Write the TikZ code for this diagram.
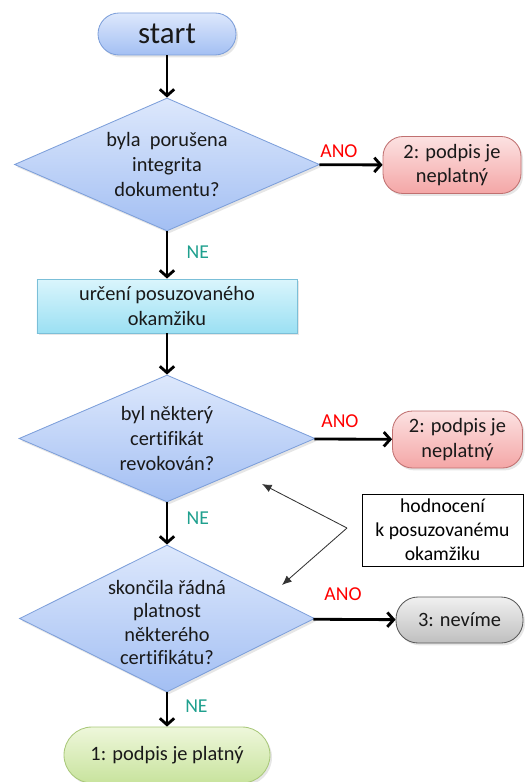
\documentclass[tikz,border=0pt]{standalone}
\usepackage{fontspec}
\setmainfont[Ligatures=NoCommon]{Carlito}
\usepackage{xcolor}
\usepackage{tikz}
\usetikzlibrary{arrows.meta,positioning,shapes.geometric,shadows}

\definecolor{diaTop}{HTML}{DDE8FC}
\definecolor{diaBot}{HTML}{A3BFF3}
\definecolor{diaLine}{HTML}{7D9FDA}
\definecolor{procTop}{HTML}{DAF5FC}
\definecolor{procBot}{HTML}{9BE0F3}
\definecolor{procLine}{HTML}{7BBFD8}
\definecolor{badTop}{HTML}{FCE2E2}
\definecolor{badBot}{HTML}{F4A6A6}
\definecolor{badLine}{HTML}{C07070}
\definecolor{unkTop}{HTML}{F0F0F0}
\definecolor{unkBot}{HTML}{BFBFBF}
\definecolor{unkLine}{HTML}{595959}
\definecolor{okTop}{HTML}{EEF7DB}
\definecolor{okBot}{HTML}{C8E39D}
\definecolor{okLine}{HTML}{A9C87A}
\definecolor{neCol}{HTML}{1FA08E}

\begin{document}
\begin{tikzpicture}[
    x=0.25mm, y=-0.25mm,
    font=\fontsize{14.5}{17.5}\selectfont,
    box/.style={draw, align=center, inner sep=2pt, text=black!90, line width=0.6pt,
      drop shadow={opacity=0.2, shadow xshift=0.5mm, shadow yshift=-0.6mm}},
    term/.style={box, draw=diaLine, top color=diaTop, bottom color=diaBot,
      minimum width=34.5mm, minimum height=10.5mm, rounded corners=5.25mm},
    dec/.style={box, shape=diamond, draw=diaLine, top color=diaTop, bottom color=diaBot, inner sep=0pt},
    dtx/.style={align=center, inner sep=0pt, text=black!90},
    proc/.style={box, draw=procLine, top color=procTop, bottom color=procBot,
      minimum width=65mm, minimum height=13.5mm},
    bad/.style={box, draw=badLine, top color=badTop, bottom color=badBot,
      minimum height=14.25mm, rounded corners=5mm},
    unk/.style={box, draw=unkLine, top color=unkTop, bottom color=unkBot,
      minimum width=31.75mm, minimum height=11.5mm, rounded corners=5.5mm},
    ok/.style={box, draw=okLine, top color=okTop, bottom color=okBot,
      minimum width=51.5mm, minimum height=14mm, rounded corners=7mm},
    note/.style={draw, line width=0.6pt, align=center, inner sep=2pt,
      minimum width=40.25mm, minimum height=18mm, font=\fontsize{14}{17}\selectfont},
    ar/.style={-{Straight Barb[length=1.6mm,width=3.6mm]}, line width=2pt},
    nar/.style={-{Latex[length=2.4mm,width=2mm]}, line width=0.6pt, black!80},
    ano/.style={text=red, inner sep=0pt, font=\fontsize{14}{16}\selectfont},
    ne/.style={text=neCol, inner sep=0pt, font=\fontsize{14}{16}\selectfont},
  ]
    \useasboundingbox (0,0) rectangle (524,782);

    \node[term, font=\fontsize{22}{24}\selectfont] (start) at (167,34) {start};

    \node[dec, minimum width=76.25mm, minimum height=33.25mm] (q1) at (167,164.5) {};
    \node[dtx] (q1t) at (q1) {byla~~porušena\\integrita\\dokumentu?};
    \node[bad, minimum width=34.5mm] (bad1) at (452,165) {2: podpis je\\neplatný};

    \node[proc] (urc) at (167,306) {určení posuzovaného\\okamžiku};

    \node[dec, minimum width=74mm, minimum height=31.75mm] (q2) at (167,438.5) {};
    \node[dtx] (q2t) at (q2) {byl některý\\certifikát\\revokován?};
    \node[bad, minimum width=32.5mm] (bad2) at (457.5,439.5) {2: podpis je\\neplatný};

    \node[note] (hodn) at (442.5,530) {hodnocení\\k posuzovanému\\okamžiku};

    \node[dec, minimum width=73.75mm, minimum height=36.75mm] (q3) at (167,618.5) {};
    \node[dtx, font=\fontsize{14.5}{16.5}\selectfont, yshift=-1mm] (q3t) at (q3)
      {skončila řádná\\platnost\\některého\\certifikátu?};
    \node[unk] (unk) at (459.5,620) {3: nevíme};

    \node[ok] (ok) at (167,755) {1: podpis je platný};

    % hlavni tok
    \draw[ar] (start) -- (q1);
    \draw[ar] (q1) -- node[ano, pos=0.31, above=4pt] (ano1) {ANO} (bad1);
    \draw[ar] (q1) -- node[ne, pos=0.44, right=13pt] (ne1) {NE} (urc);
    \draw[ar] (urc) -- (q2);
    \draw[ar] (q2) -- node[ano, pos=0.33, above=7pt] (ano2) {ANO} (bad2);
    \draw[ar] (q2) -- node[ne, pos=0.37, right=13pt] (ne2) {NE} (q3);
    \draw[ar] (q3) -- node[ano, pos=0.36, above=12pt] (ano3) {ANO} (unk);
    \draw[ar] (q3) -- node[ne, pos=0.39, right=12pt] (ne3) {NE} (ok);

    % odkazy z poznamky
    \coordinate (fork) at (347,528);
    \coordinate (tip1) at (262,484);
    \coordinate (tip2) at (282,585);
    \draw[nar] (fork) -- (tip1);
    \draw[nar] (fork) -- (tip2);
  \end{tikzpicture}
\end{document}
